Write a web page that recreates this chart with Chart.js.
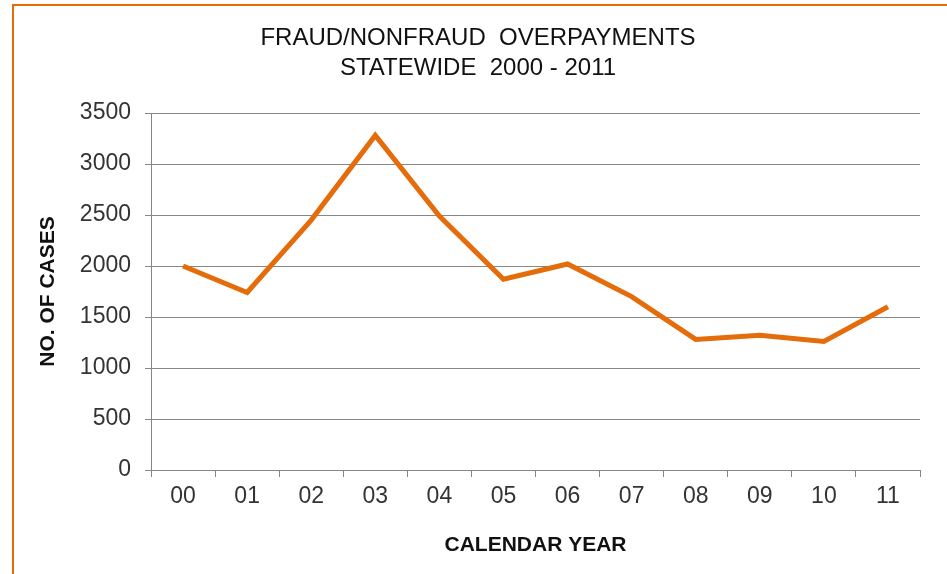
<!DOCTYPE html>
<html>
<head>
<meta charset="utf-8">
<script src="https://cdn.jsdelivr.net/npm/chart.js@4"></script>
<style>
  body { margin: 0; background: #fff; }
  #wrap { position: relative; width: 947px; height: 574px; overflow: hidden; }
  #frame { position: absolute; left: 12px; top: 4px; width: 1000px; height: 700px;
           border-top: 2px solid #e46c0a; border-left: 2px solid #e46c0a; }
  canvas { position: absolute; left: 0; top: 0; }
</style>
</head>
<body>
<div id="wrap">
  <div id="frame"></div>
  <canvas id="chart" width="947" height="574"></canvas>
</div>
<script>
// **********************************************
// data
let years = ['00', '01', '02', '03', '04', '05', '06', '07', '08', '09', '10', '11'];
let cases = [2000, 1740, 2450, 3280, 2490, 1870, 2020, 1700, 1280, 1320, 1260, 1600];
let yTicks = [0, 500, 1000, 1500, 2000, 2500, 3000, 3500];
let titleLines = ['FRAUD/NONFRAUD  OVERPAYMENTS', 'STATEWIDE  2000 - 2011'];

let orange = '#e46c0a';
let gridGray = '#868686';
let tickFont = { family: 'Liberation Sans, Arial, sans-serif', size: 23 };
let axisTitleFont = { family: 'Liberation Sans, Arial, sans-serif', size: 21, weight: 'bold' };

let ctx = document.getElementById('chart').getContext('2d');

let fraudChart = new Chart(ctx, {
    type: 'line',
    data: {
        labels: years,
        datasets: [{
            data: cases,
            borderColor: orange,
            borderWidth: 5,
            pointRadius: 0,
            tension: 0,
            fill: false
        }]
    },
    options: {
        responsive: false,
        animation: false,
        layout: { padding: { left: 9, right: 0, top: 0, bottom: 0 } },
        plugins: {
            legend: { display: false },
            tooltip: { enabled: false },
            title: {
                display: true,
                text: titleLines,
                color: '#111',
                font: { family: 'Liberation Sans Narrow, Arial Narrow, Liberation Sans, sans-serif', size: 24, weight: 'normal', lineHeight: '30px' },
                padding: { top: 23, bottom: 30 }
            }
        },
        scales: {
            x: {
                offset: true,
                grid: {
                    offset: true,
                    drawOnChartArea: false,
                    drawTicks: true,
                    tickLength: 7,
                    color: gridGray
                },
                border: { display: true, color: gridGray, width: 1 },
                ticks: { color: '#333', font: tickFont, padding: 6, maxRotation: 0 },
                title: {
                    display: true,
                    text: 'CALENDAR YEAR',
                    color: '#111',
                    font: axisTitleFont,
                    padding: { top: 0, bottom: 16 }
                },
                afterFit: (scale) => { scale.height = 104; }
            },
            y: {
                min: 0,
                max: 3500,
                afterBuildTicks: (scale) => { scale.ticks = yTicks.map(v => ({ value: v })); },
                grid: { color: gridGray, tickLength: 6, lineWidth: 1 },
                border: { display: true, color: gridGray, width: 1 },
                ticks: { color: '#333', font: tickFont, padding: 14, callback: (v) => String(v) },
                title: {
                    display: true,
                    text: 'NO. OF CASES',
                    color: '#111',
                    font: axisTitleFont,
                    padding: { top: 27, bottom: 0 }
                },
                afterFit: (scale) => { scale.width = 142; }
            },
            // empty right-hand axis, only reserves the margin right of the plot
            yRight: {
                position: 'right',
                display: true,
                grid: { display: false },
                border: { display: false },
                ticks: { display: false },
                afterFit: (scale) => { scale.width = 27; }
            }
        }
    }
});
</script>
</body>
</html>
